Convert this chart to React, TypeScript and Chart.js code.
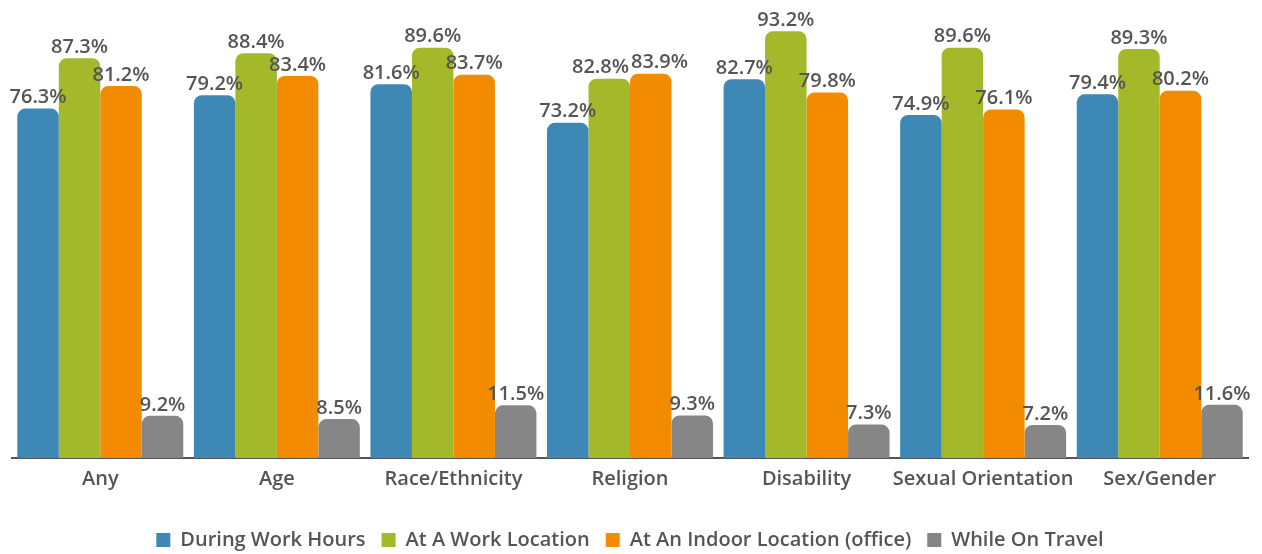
import React, { useEffect, useRef } from "react";
import { Chart, registerables } from "chart.js";

Chart.register(...registerables);

const categories = ["Any", "Age", "Race/Ethnicity", "Religion", "Disability", "Sexual Orientation", "Sex/Gender"];
const seriesNames = ["During Work Hours", "At A Work Location", "At An Indoor Location (office)", "While On Travel"];
const duringWorkHours = [76.3, 79.2, 81.6, 73.2, 82.7, 74.9, 79.4];
const atWorkLocation = [87.3, 88.4, 89.6, 82.8, 93.2, 89.6, 89.3];
const atIndoorLocation = [81.2, 83.4, 83.7, 83.9, 79.8, 76.1, 80.2];
const whileOnTravel = [9.2, 8.5, 11.5, 9.3, 7.3, 7.2, 11.6];
const seriesColors = ["#3E88B5", "#A3B92A", "#F38B00", "#868686"];

const FONT = "'Open Sans', 'Liberation Sans', sans-serif";

const valueLabels = {
  id: "valueLabels",
  afterDatasetsDraw(chart: any) {
    const ctx = chart.ctx;
    ctx.save();
    ctx.font = `600 20px ${FONT}`;
    ctx.fillStyle = "#555555";
    ctx.textAlign = "center";
    ctx.textBaseline = "bottom";
    const nCat = chart.data.labels.length;
    const nDs = chart.data.datasets.length;
    for (let j = 0; j < nCat; j++) {
      const items: any[] = [];
      for (let i = 0; i < nDs; i++) {
        const bar: any = chart.getDatasetMeta(i).data[j];
        const text = chart.data.datasets[i].data[j].toFixed(1) + "%";
        items.push({ text, x: bar.x, y: bar.y - 1, w: ctx.measureText(text).width });
      }
      // separate neighbouring labels that would collide
      for (let k = 0; k < items.length - 1; k++) {
        const a = items[k];
        const b = items[k + 1];
        if (Math.abs(a.y - b.y) < 22) {
          const overlap = (a.x + a.w / 2) - (b.x - b.w / 2) + 2;
          if (overlap > 0) {
            a.x -= overlap / 2;
            b.x += overlap / 2;
          }
        }
      }
      items.forEach((it) => ctx.fillText(it.text, it.x, it.y));
    }
    ctx.restore();
  },
};

const legendHeight = {
  id: "legendHeight",
  beforeLayout(chart: any) {
    const lg = chart.legend;
    if (lg && !lg._fixedFit) {
      const orig = lg.fit.bind(lg);
      lg.fit = function () {
        orig();
        this.height = 40;
      };
      lg._fixedFit = true;
    }
  },
};

export default function App() {
  const ref = useRef<HTMLCanvasElement>(null);
  useEffect(() => {
    const data = [duringWorkHours, atWorkLocation, atIndoorLocation, whileOnTravel];
    const chart = new Chart(ref.current!, {
      type: "bar",
      data: {
        labels: categories,
        datasets: data.map((d, i) => ({
          label: seriesNames[i],
          data: d,
          backgroundColor: seriesColors[i],
          borderRadius: { topLeft: 8, topRight: 8, bottomLeft: 0, bottomRight: 0 },
          borderSkipped: "bottom",
          barPercentage: 1.0,
          categoryPercentage: 0.94,
        })),
      },
      options: {
        animation: false,
        responsive: true,
        maintainAspectRatio: false,
        layout: { padding: { left: 12, right: 14, top: 0, bottom: 0 } },
        scales: {
          x: {
            grid: { display: false },
            border: { display: true, color: "#555555", width: 2 },
            ticks: {
              color: "#555555",
              font: { family: FONT, size: 20, weight: "600" },
              padding: 1,
              maxRotation: 0,
              minRotation: 0,
              autoSkip: false,
            },
            afterFit(scale: any) {
              scale.height = 56;
            },
          },
          y: {
            display: false,
            min: 0,
            max: 100,
          },
        },
        plugins: {
          legend: {
            position: "bottom",
            labels: {
              color: "#555555",
              font: { family: FONT, size: 20, weight: "600" },
              boxWidth: 14,
              boxHeight: 14,
              padding: 16,
            },
          },
          tooltip: { enabled: false },
        },
      },
      plugins: [valueLabels, legendHeight],
    });
    return () => chart.destroy();
  }, []);
  return (
    <div style={{ position: "fixed", left: 0, top: 0, width: 1262, height: 554, background: "#fff" }}>
      <canvas ref={ref} />
    </div>
  );
}
